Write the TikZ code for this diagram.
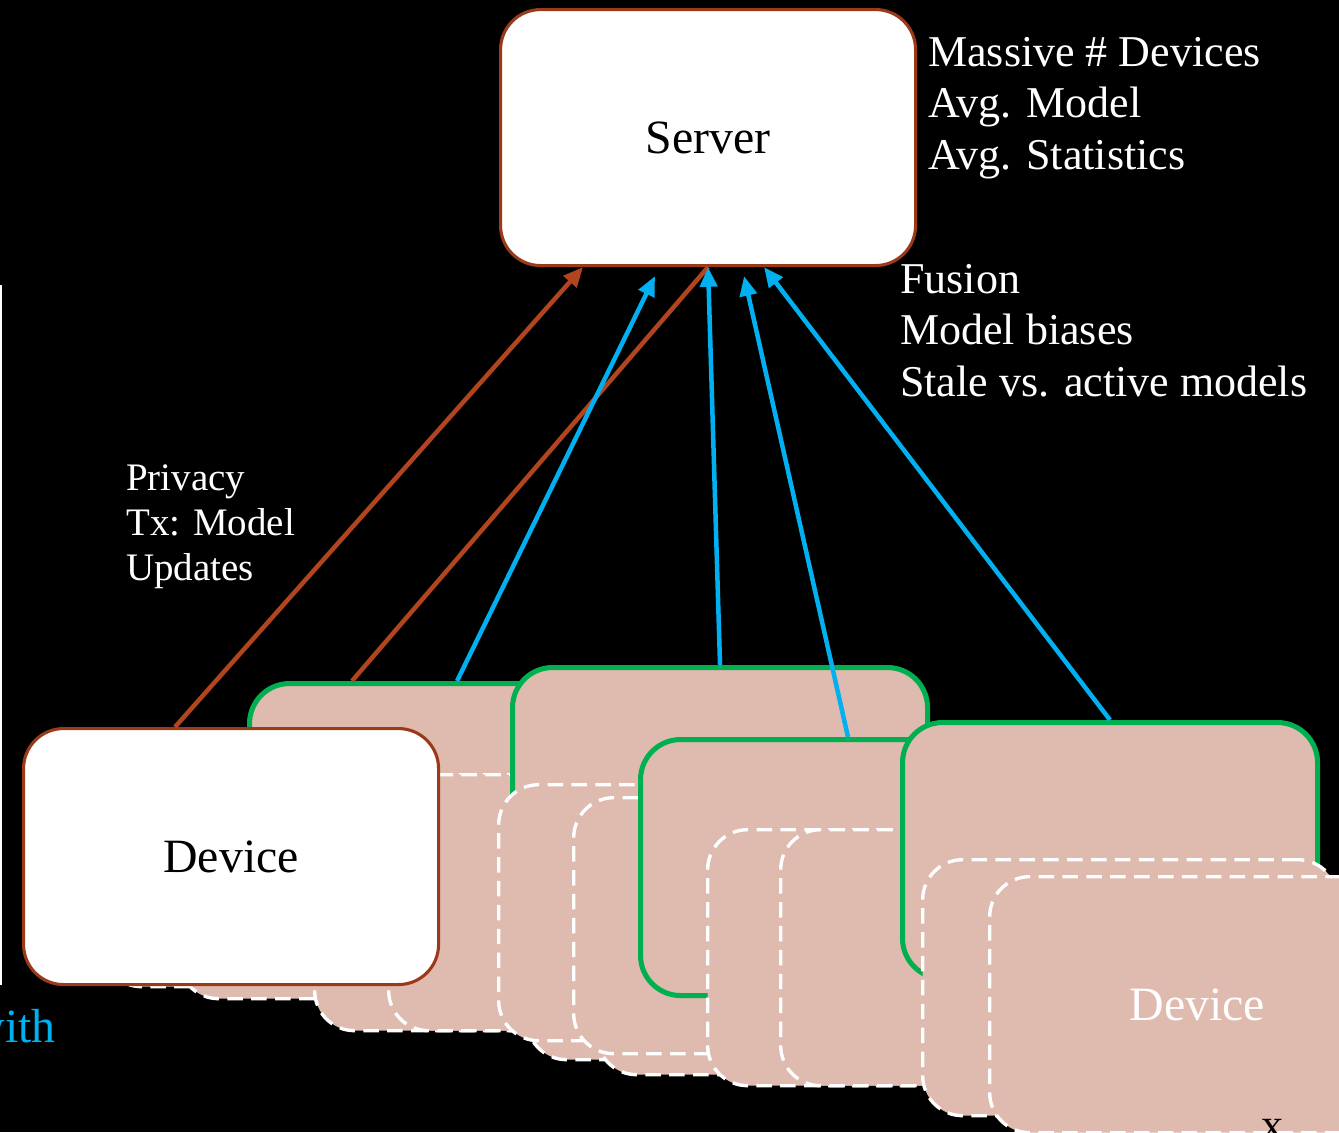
\documentclass[tikz,border=0pt]{standalone}
\usepackage{fontspec}
\setmainfont{Liberation Serif}
\usepackage{xcolor}
\definecolor{cPink}{HTML}{DFBAAE}
\definecolor{cGreen}{HTML}{00B050}
\definecolor{cBlue}{HTML}{00B0F0}
\definecolor{cBrown}{HTML}{B1451E}
\definecolor{cEdge}{HTML}{9A3A18}
\usetikzlibrary{arrows.meta,calc}
\tikzset{
  card/.style={anchor=north west,inner sep=0pt,rounded corners=10mm,
    minimum width=103.75mm,minimum height=64mm},
  card-green/.style={card,draw=cGreen,fill=cPink,line width=3.6pt},
  card-ghost/.style={card,draw=white,fill=cPink,line width=2.4pt,
    dash pattern=on 11pt off 6pt},
  card-front/.style={card,draw=cEdge,fill=white,line width=2.2pt,
    font=\fontsize{34}{40}\selectfont},
  note-big/.style={text=white,align=left,inner sep=0pt,
    font=\fontsize{31.3}{36.3}\selectfont},
  note-small/.style={text=white,align=left,inner sep=0pt,
    font=\fontsize{27.7}{31.7}\selectfont},
  arrow-brown/.style={-{Triangle[length=14pt,width=12pt]},line width=3.2pt,draw=cBrown},
  line-brown/.style={line width=3.2pt,draw=cBrown},
  arrow-blue/.style={-{Triangle[length=14pt,width=12pt]},line width=3.2pt,draw=cBlue},
}

\begin{document}
\begin{tikzpicture}[x=0.25mm,y=-0.25mm]
  \fill[black] (0,0) rectangle (1339,1132);
  \useasboundingbox (0,0) rectangle (1339,1132);
  \clip (0,0) rectangle (1339,1132);
  \draw[white,line width=1.4pt] (1,285) -- (1,985);
  % device stacks, back to front
  \node[card-ghost] (g0)  at (100,729) {};
  \node[card-ghost] (g1)  at (177,741) {};
  \node[card-green] (ga)  at (247,681) {};
  \node[card-ghost] (g2)  at (313,773) {};
  \node[card-ghost] (g3)  at (387,773) {};
  \node[card-green] (gb)  at (510,665) {};
  \node[card-ghost] (g4)  at (525,802) {};
  \node[card-ghost] (g5)  at (595,817) {};
  \node[card-ghost] (g6)  at (497,783) {};
  \node[card-ghost] (g7)  at (572,796) {};
  \node[card-green] (gc)  at (638,737) {};
  \node[card-ghost] (g8)  at (706,828) {};
  \node[card-ghost] (g9)  at (779,828) {};
  \node[card-green] (gd)  at (900,720) {};
  \node[card-ghost] (g10) at (921,858) {};
  \node[card-ghost,text=white,font=\fontsize{34}{40}\selectfont] (g11) at (988,875) {Device};
  \node[card-front] (dev) at (22,727) {Device};
  \node[card-front] (srv) at (499,8) {Server};
  % uploads
  \draw[arrow-brown] ($(dev.north west)+(153,0)$) -- ($(srv.south west)+(84,0)$);
  \draw[line-brown]  ($(ga.north west)+(105,0)$) -- (srv.south);
  \draw[arrow-blue]  (ga.north) -- ($(srv.south west)+(156,9)$);
  \draw[arrow-blue]  (gb.north) -- (srv.south);
  \draw[arrow-blue]  ($(gc.north west)+(210,0)$) -- ($(srv.south)+(36,9)$);
  \draw[arrow-blue]  (gd.north) -- ($(srv.south)+(56,0)$);
  % labels
  \node[note-big,anchor=base west]   (stats)  at (928,169) {Massive \# Devices\\Avg. Model\\Avg. Statistics};
  \node[note-big,anchor=base west]   (issues) at (900,396) {Fusion\\Model biases\\Stale vs. active models};
  \node[note-small,anchor=base west] (priv)   at (126,580) {Privacy\\Tx: Model\\Updates};
  \node[anchor=base east,inner sep=0pt,text=cBlue,font=\fontsize{34}{40}\selectfont] (cut) at (56,1042) {with};
  \node[anchor=north,inner sep=0pt,font=\fontsize{31.3}{36}\selectfont] (xcut) at (1272,1119) {x};
\end{tikzpicture}
\end{document}
